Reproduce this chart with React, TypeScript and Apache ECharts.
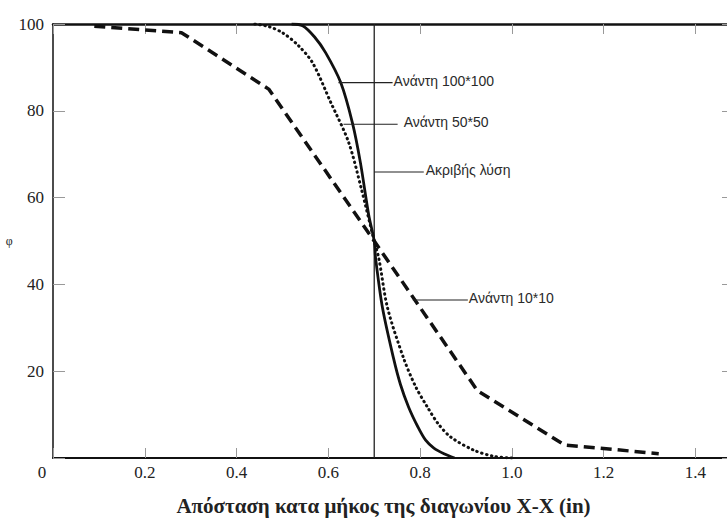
import React, { useEffect, useRef } from "react";
import * as echarts from "echarts";

// x: distance along diagonal X-X (in), y: φ
const xTicks = [0, 0.2, 0.4, 0.6, 0.8, 1.0, 1.2, 1.4];
const yTicks = [20, 40, 60, 80, 100];

const exactSolution: [number, number][] = [
  [0.7, 100],
  [0.7, 0],
];

const upwind10: [number, number][] = [
  [0.09, 99.5],
  [0.28, 98],
  [0.47, 85],
  [0.7, 50],
  [0.925, 15.5],
  [1.115, 3],
  [1.32, 1.0],
];

const upwind50: [number, number][] = [
  [0.44, 100],
  [0.47, 99.4],
  [0.5, 98],
  [0.535, 95],
  [0.566, 91],
  [0.605, 82],
  [0.644, 72.8],
  [0.672, 62],
  [0.7, 50],
  [0.71, 46],
  [0.729, 34.6],
  [0.764, 23],
  [0.79, 16.5],
  [0.816, 11.7],
  [0.84, 7.8],
  [0.867, 4.8],
  [0.917, 1.8],
  [0.96, 0.4],
  [1.0, 0],
];

const upwind100: [number, number][] = [
  [0.52, 100],
  [0.544, 99.6],
  [0.57, 97],
  [0.594, 93.4],
  [0.627, 86.5],
  [0.653, 77],
  [0.67, 68],
  [0.688, 56],
  [0.7, 50],
  [0.703, 46],
  [0.718, 34.6],
  [0.742, 23],
  [0.757, 17],
  [0.775, 11.7],
  [0.795, 7.2],
  [0.812, 4.1],
  [0.83, 2.3],
  [0.852, 1.0],
  [0.875, 0],
];

// annotation leaders: [xStart, xEnd, φ], label text
const leaderNames = ["Ανάντη 100*100", "Ανάντη 50*50", "Ακριβής λύση", "Ανάντη 10*10"];
const leaderCoords: [number, number, number][] = [
  [0.622, 0.74, 86.5],
  [0.633, 0.751, 76.9],
  [0.7, 0.808, 65.9],
  [0.784, 0.904, 36.4],
];
const leaderGaps = [1, 6, 2, 1];

const X_MAX = 1.484;

export default function App() {
  const ref = useRef<HTMLDivElement>(null);
  useEffect(() => {
    if (!ref.current) return;
    const chart = echarts.init(ref.current, null, { renderer: "svg" });
    const serif = "Liberation Serif";
    const sans = "Liberation Sans";

    const leaderSeries = leaderNames.map((name, i) => ({
      type: "line",
      name,
      data: [
        [leaderCoords[i][0], leaderCoords[i][2]],
        [leaderCoords[i][1], leaderCoords[i][2]],
      ],
      symbol: "none",
      silent: true,
      lineStyle: { color: "#222", width: 1.2 },
      endLabel: {
        show: true,
        formatter: name,
        distance: leaderGaps[i],
        offset: [0, -2],
        fontFamily: sans,
        fontStyle: "normal",
        fontSize: 14,
        color: "#2a2a2a",
      },
      z: 5,
    }));

    const xLabelFmt = (v: number) => {
      const k = Math.round(v / 0.2);
      if (Math.abs(v - k * 0.2) > 1e-6 || !xTicks.some((t) => Math.abs(t - v) < 1e-6)) return "";
      if (k === 0) return "{z|0}";
      return v.toFixed(1);
    };

    const tickStyle = { show: true, inside: true, lineStyle: { color: "#999", width: 1 } };

    chart.setOption({
      animation: false,
      backgroundColor: "#ffffff",
      grid: { left: 53, top: 24, right: 0, bottom: 60 },
      xAxis: [
        {
          type: "value",
          position: "bottom",
          min: 0,
          max: X_MAX,
          interval: 0.2,
          splitLine: { show: false },
          axisLine: { show: true, onZero: false, lineStyle: { color: "#111", width: 2 } },
          axisTick: { ...tickStyle, length: 10 },
          axisLabel: {
            formatter: xLabelFmt,
            fontFamily: serif,
            fontSize: 17,
            color: "#222",
            margin: 6,
            showMaxLabel: false,
            rich: {
              z: { fontFamily: serif, fontSize: 17, color: "#222", padding: [0, 22, 0, 0] },
            },
          },
          name: "Απόσταση κατα μήκος της διαγωνίου X-X (in)",
          nameLocation: "middle",
          nameGap: 37,
          nameTextStyle: {
            fontFamily: serif,
            fontWeight: "bold",
            fontSize: 21,
            color: "#222",
            padding: [0, 20, 0, 0],
          },
        },
        {
          type: "value",
          position: "top",
          min: 0,
          max: X_MAX,
          interval: 0.2,
          splitLine: { show: false },
          axisLine: { show: true, onZero: false, lineStyle: { color: "#111", width: 2.5 } },
          axisTick: { ...tickStyle, length: 10 },
          axisLabel: { show: false },
        },
      ],
      yAxis: [
        {
          type: "value",
          position: "left",
          min: 0,
          max: 100,
          interval: 20,
          splitLine: { show: false },
          axisLine: { show: true, onZero: false, lineStyle: { color: "#111", width: 1.5 } },
          axisTick: { ...tickStyle, length: 12 },
          axisLabel: {
            formatter: (v: number) => (yTicks.includes(v) ? String(v) : ""),
            fontFamily: serif,
            fontSize: 17,
            color: "#222",
            margin: 9,
          },
          name: "φ",
          nameLocation: "middle",
          nameRotate: 0,
          nameGap: 40,
          nameTextStyle: { fontFamily: serif, fontSize: 12, color: "#222" },
        },
        {
          type: "value",
          position: "right",
          min: 0,
          max: 100,
          interval: 20,
          splitLine: { show: false },
          axisLine: { show: true, onZero: false, lineStyle: { color: "#111", width: 1.5 } },
          axisTick: { ...tickStyle, length: 12 },
          axisLabel: { show: false },
        },
      ],
      series: [
        {
          type: "line",
          name: "Ακριβής λύση",
          data: exactSolution,
          symbol: "none",
          silent: true,
          lineStyle: { color: "#222", width: 1.3 },
          z: 3,
        },
        {
          type: "line",
          name: "Ανάντη 10*10",
          data: upwind10,
          symbol: "none",
          silent: true,
          lineStyle: { color: "#111", width: 3.5, type: [11, 6] },
          z: 4,
        },
        {
          type: "line",
          name: "Ανάντη 50*50",
          data: upwind50,
          symbol: "none",
          smooth: 0.3,
          silent: true,
          lineStyle: { color: "#111", width: 3, type: [0.5, 4.5], cap: "round" },
          z: 4,
        },
        {
          type: "line",
          name: "Ανάντη 100*100",
          data: upwind100,
          symbol: "none",
          smooth: 0.3,
          silent: true,
          lineStyle: { color: "#111", width: 2.8 },
          z: 4,
        },
        ...leaderSeries,
      ],
    });
    return () => chart.dispose();
  }, []);

  return (
    <div style={{ position: "fixed", left: 0, top: 0, width: 727, height: 521, overflow: "hidden", background: "#fff" }}>
      <div ref={ref} style={{ width: 734, height: 521 }} />
    </div>
  );
}
